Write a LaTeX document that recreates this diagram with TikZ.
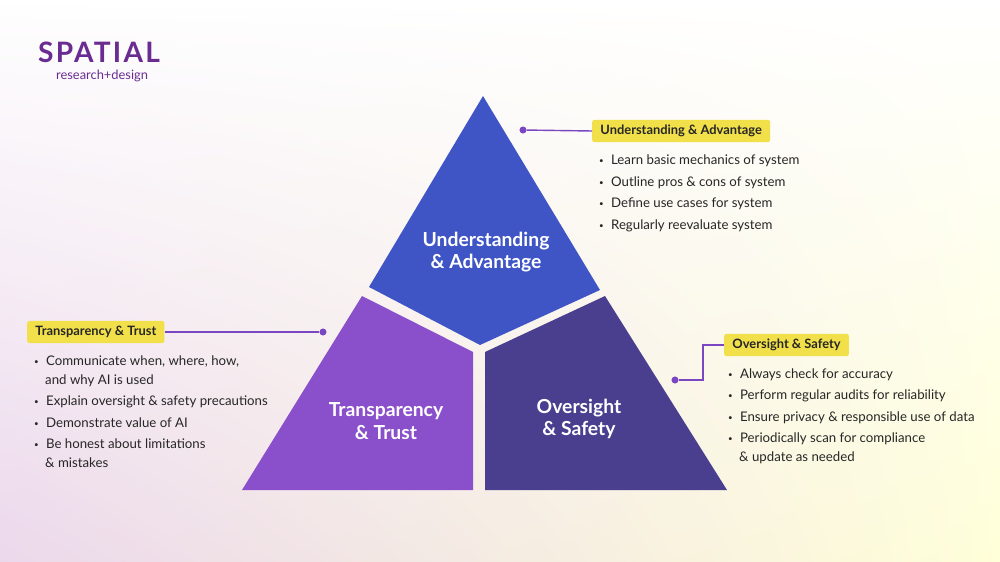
\documentclass[tikz,border=0pt]{standalone}
\usepackage{fontspec}
\setmainfont{Lato}
\usetikzlibrary{positioning,shadings}
\definecolor{topblue}{HTML}{3F55C6}
\definecolor{leftpurple}{HTML}{8A4FCB}
\definecolor{rightindigo}{HTML}{4A3E8F}
\definecolor{tagyellow}{HTML}{F1E04A}
\definecolor{linkpurple}{HTML}{7A46C2}
\definecolor{logopurple}{HTML}{6A2C91}
\tikzset{
  tag/.style={fill=tagyellow, rounded corners=2pt, font=\bfseries\fontsize{11}{13}\selectfont, inner xsep=7pt, inner ysep=4.5pt, text=black!85},
  piece/.style={text=white, align=center, font=\bfseries\fontsize{16.5}{19}\selectfont},
  item/.style={anchor=west, font=\fontsize{11.3}{13}\selectfont, text=black!85, inner sep=0pt},
  dot/.style={circle, fill=linkpurple, inner sep=0pt, minimum size=6pt},
  link/.style={linkpurple, line width=1.2pt}
}
\newcommand{\bul}{\raisebox{0.15ex}{\scalebox{0.6}{\textbullet}}\hspace{0.55em}}
\begin{document}
\begin{tikzpicture}[x=0.03cm, y=-0.03cm]
  \useasboundingbox (0,0) rectangle (1000,562);
  \shade[upper left=white, upper right=white, lower left=violet!20, lower right=yellow!20] (0,0) rectangle (1000,562);
  \shade[top color=white, bottom color=white, middle color=white, opacity=0.25] (0,0) rectangle (1000,562);
  % logo
  \node[anchor=west, text=logopurple, font=\bfseries\fontsize{24}{26}\selectfont\addfontfeature{LetterSpace=8}] (logo) at (34,52) {SPATIAL};
  \node[anchor=west, text=logopurple, font=\fontsize{11}{13}\selectfont] (sub) at (52,76) {research+design};
  % pyramid
  \fill[topblue] (483,96) -- (369,287) -- (480,345) -- (600,290) -- cycle;
  \fill[leftpurple] (362,296) -- (242,490) -- (473,490) -- (473,352) -- cycle;
  \fill[rightindigo] (605,296) -- (727,490) -- (485,490) -- (485,352) -- cycle;
  \node[piece] (und) at (486,252) {Understanding\\\& Advantage};
  \node[piece] (tra) at (386,421) {Transparency\\\& Trust};
  \node[piece] (ove) at (579,419) {Oversight\\\& Safety};
  % tags
  \node[tag, anchor=west] (tagund) at (592,131) {Understanding \& Advantage};
  \node[dot] (dotund) at (523,130) {};
  \draw[link] (dotund) -- (tagund.west);
  \node[tag, anchor=west] (tagtra) at (27,332) {Transparency \& Trust};
  \node[dot] (dottra) at (323,332) {};
  \draw[link] (tagtra.east) -- (dottra);
  \node[tag, anchor=west] (tagove) at (724,345) {Oversight \& Safety};
  \node[dot] (dotove) at (675,380) {};
  \draw[link] (tagove.west) -- ++(-21,0) |- (dotove);
  % lists
  \node[item] (u1) at (599,161) {\bul Learn basic mechanics of system};
  \node[item] (u2) at (599,183) {\bul Outline pros \& cons of system};
  \node[item] (u3) at (599,204) {\bul Define use cases for system};
  \node[item] (u4) at (599,226) {\bul Regularly reevaluate system};
  \node[item] (t1) at (34,362) {\bul Communicate when, where, how,};
  \node[item] (t1b) at (45,381) {and why AI is used};
  \node[item] (t2) at (34,402) {\bul Explain oversight \& safety precautions};
  \node[item] (t3) at (34,423) {\bul Demonstrate value of AI};
  \node[item] (t4) at (34,444) {\bul Be honest about limitations};
  \node[item] (t4b) at (45,463) {\& mistakes};
  \node[item] (o1) at (728,375) {\bul Always check for accuracy};
  \node[item] (o2) at (728,396) {\bul Perform regular audits for reliability};
  \node[item] (o3) at (728,418) {\bul Ensure privacy \& responsible use of data};
  \node[item] (o4) at (728,439) {\bul Periodically scan for compliance};
  \node[item] (o4b) at (739,458) {\& update as needed};
\end{tikzpicture}
\end{document}
